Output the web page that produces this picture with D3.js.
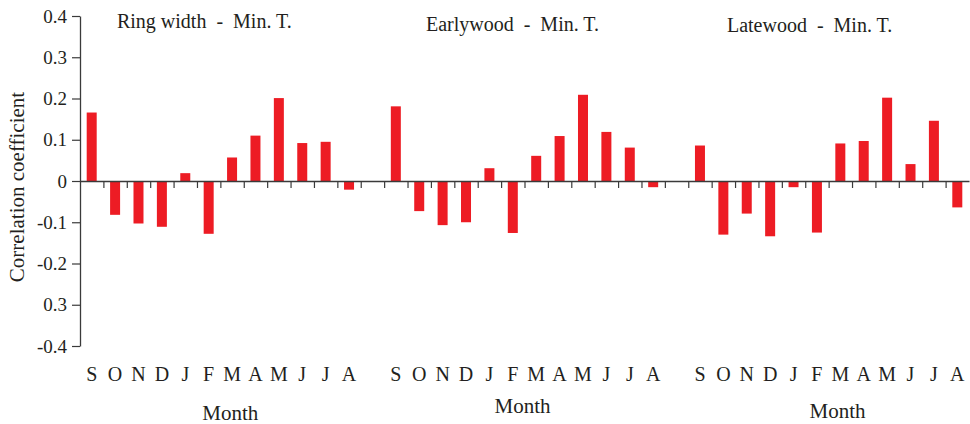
<!DOCTYPE html>
<html>
<head>
<meta charset="utf-8">
<script src="https://cdn.jsdelivr.net/npm/d3@7"></script>
<style>
  body { margin: 0; background: #fff; }
  text { font-family: "Liberation Serif", "DejaVu Serif", serif; fill: #231f20; }
</style>
</head>
<body>
<svg id="chart"></svg>
<script>
// panels and months
let panels = ['Ring width  -  Min. T.', 'Earlywood  -  Min. T.', 'Latewood  -  Min. T.']
let months = ['S', 'O', 'N', 'D', 'J', 'F', 'M', 'A', 'M', 'J', 'J', 'A']

// correlation values per panel
let ringWidth = [0.166, -0.082, -0.103, -0.111, 0.019, -0.128, 0.057, 0.110, 0.201, 0.092, 0.095, -0.021]
let earlywood = [0.181, -0.073, -0.107, -0.100, 0.031, -0.126, 0.061, 0.109, 0.209, 0.119, 0.081, -0.015]
let latewood  = [0.086, -0.130, -0.079, -0.134, -0.015, -0.125, 0.091, 0.097, 0.202, 0.041, 0.146, -0.064]

let yTicks = [0.4, 0.3, 0.2, 0.1, 0, -0.1, -0.2, -0.3, -0.4]
let yTickLabels = ['0.4', '0.3', '0.2', '0.1', '0', '-0.1', '-0.2', '0.3', '-0.4']

let series = [ringWidth, earlywood, latewood]

let width = 970, height = 424
let slotsPerPanel = months.length + 1
let nSlots = slotsPerPanel * panels.length - 1

const svg = d3.select('#chart').attr('width', width).attr('height', height)

let x = d3.scaleLinear().domain([0, nSlots]).range([80, 969])
let band = x(1) - x(0)
let barW = 10
let y = d3.scaleLinear().domain([-0.4, 0.4]).range([346, 16])

let bars = []
series.forEach((vals, p) => {
    vals.forEach((v, i) => bars.push({slot: p * slotsPerPanel + i, value: v, month: months[i]}))
})

// bars
svg.append('g').selectAll('rect')
    .data(bars)
    .join('rect')
    .attr('x', d => x(d.slot) + band / 2 - barW / 2)
    .attr('width', barW)
    .attr('y', d => y(Math.max(0, d.value)))
    .attr('height', d => Math.abs(y(d.value) - y(0)))
    .attr('fill', '#ed1c24')

// x axis along zero
let xAxis = svg.append('g')
    .attr('transform', `translate(0,${y(0)})`)
    .call(d3.axisBottom(x).tickValues(d3.range(1, nSlots)).tickFormat('').tickSize(7).tickSizeOuter(0))
xAxis.select('.domain').attr('stroke', '#3a3a3a').attr('stroke-width', 1.3)
xAxis.selectAll('.tick line').attr('stroke', '#3a3a3a').attr('stroke-width', 1.2)

// y axis
let yAxis = svg.append('g')
    .attr('font-family', null)
    .attr('transform', `translate(${x(0)},0)`)
    .call(d3.axisLeft(y).tickValues(yTicks).tickFormat((d, i) => yTickLabels[i]).tickSize(8).tickPadding(5).tickSizeOuter(0))
yAxis.attr('font-family', '"Liberation Serif", serif')
yAxis.select('.domain').attr('stroke', '#3a3a3a').attr('stroke-width', 1.3)
yAxis.selectAll('.tick line').attr('stroke', '#3a3a3a').attr('stroke-width', 1.2)
yAxis.selectAll('.tick text').style('font-size', '19px').attr('fill', '#231f20')

// month letters
svg.append('g').selectAll('text')
    .data(bars)
    .join('text')
    .attr('x', d => x(d.slot) + band / 2)
    .attr('y', 381)
    .attr('text-anchor', 'middle')
    .style('font-size', '20px')
    .text(d => d.month)

// panel titles and "Month" labels
let titleShift = [-16, -12, -19]
let titleBase = [28, 31, 32]
let monthShift = [10, -2, 9]
let monthBase = [420, 413, 418]
panels.forEach((t, p) => {
    let cx = (x(p * slotsPerPanel) + x(p * slotsPerPanel + months.length)) / 2
    svg.append('text')
        .attr('x', cx + titleShift[p])
        .attr('y', titleBase[p])
        .attr('text-anchor', 'middle')
        .style('font-size', '20px')
        .style('white-space', 'pre')
        .text(t)
    svg.append('text')
        .attr('x', cx + monthShift[p])
        .attr('y', monthBase[p])
        .attr('text-anchor', 'middle')
        .style('font-size', '21px')
        .text('Month')
})

// y axis title
svg.append('text')
    .attr('transform', `translate(24,${(y(0.4) + y(-0.4)) / 2 + 6}) rotate(-90)`)
    .attr('text-anchor', 'middle')
    .style('font-size', '21px')
    .text('Correlation coefficient')
</script>
</body>
</html>
